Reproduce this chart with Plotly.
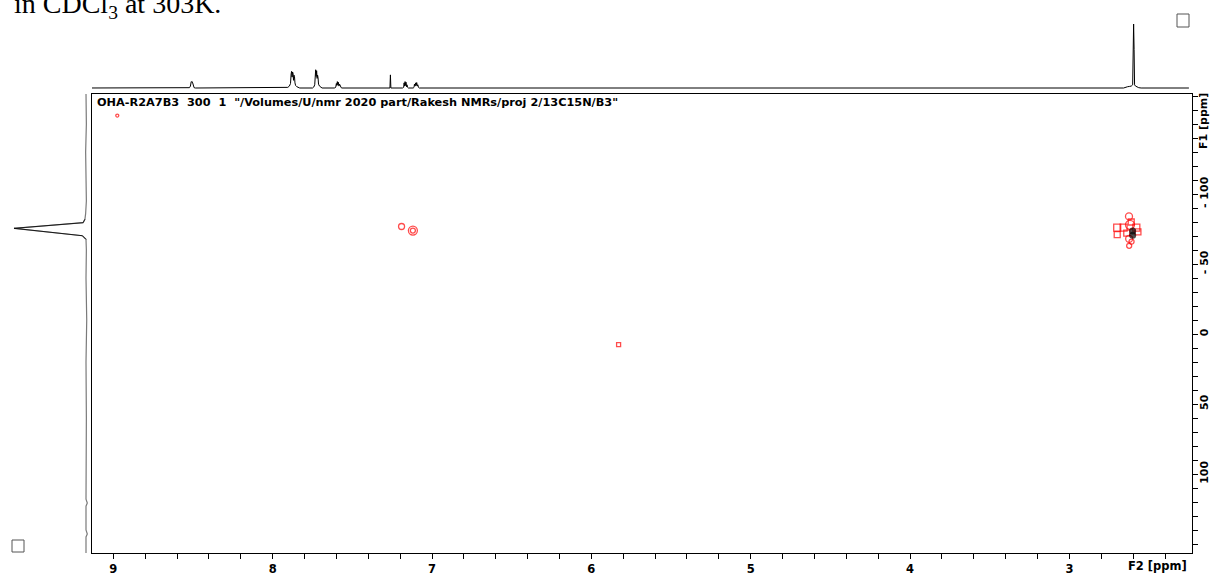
import plotly.graph_objects as go

W, H = 1214, 576

# ---------------- data ----------------
# F2 axis labels (1H, ppm)
f2_labels = [9, 8, 7, 6, 5, 4, 3]
# F1 axis labels (15N, ppm)
f1_label_vals = [-100, -50, 0, 50, 100]
f1_label_text = ["- 100", "- 50", "0", "50", "100"]

# Top 1H projection: (ppm, intensity)
h_ppm = [9.14, 8.53, 8.522, 8.516, 8.514, 8.511, 8.508, 8.505, 8.502, 8.499, 8.493, 8.485,
         7.915, 7.905, 7.895, 7.888, 7.884, 7.881, 7.878, 7.875, 7.872, 7.869, 7.866, 7.863,
         7.860, 7.856, 7.848, 7.838, 7.83,
         7.75, 7.742, 7.736, 7.733, 7.730, 7.727, 7.724, 7.721, 7.718, 7.715, 7.712, 7.706,
         7.698, 7.69,
         7.61, 7.604, 7.600, 7.597, 7.594, 7.591, 7.588, 7.584, 7.580, 7.576, 7.570, 7.565,
         7.264, 7.261, 7.258,
         7.185, 7.178, 7.175, 7.172, 7.169, 7.166, 7.163, 7.160, 7.157, 7.153, 7.148,
         7.118, 7.113, 7.110, 7.106, 7.103, 7.099, 7.096, 7.092, 7.089, 7.085, 7.08,
         2.66, 2.645, 2.635, 2.622, 2.612, 2.603, 2.600, 2.597, 2.594, 2.591, 2.585, 2.578,
         2.565, 2.55, 2.25]
h_int = [0, 0, 0.5, 3, 9, 10, 9.5, 10, 8, 3, 0.5, 0,
         0, 1, 3, 7, 22, 26, 17, 25, 23, 12, 20, 18,
         8, 4, 2, 0.5, 0,
         0, 1.5, 5, 22, 28.5, 18, 27, 15, 20, 16, 6, 3,
         1, 0,
         0, 1.5, 7, 4, 10, 5, 9, 3, 6, 2, 0.5, 0,
         0, 20.5, 0,
         0, 1, 8, 3, 10, 4, 9, 2, 5, 1, 0,
         0, 1, 6, 3, 8, 4, 8.5, 3, 5, 1, 0,
         0, 0.5, 2, 2.5, 3, 5, 60, 100, 60, 5, 3, 2,
         0.5, 0, 0]

# Left 15N projection: (ppm, intensity)
n_ppm = [-172, -150, -130, -110, -95, -86, -82, -79.5, -75.5, -70.2, -67.6, -60, -40,
         -10, 20, 60, 95, 118, 120.7, 123, 140, 142.9, 145, 157]
n_int = [0, -0.5, 0.5, 0, -0.5, 0.5, 1.5, 4, 100, 5, 0, -0.5, 0,
         -1, 0, -0.5, 0, 0, -1.8, 0, 0, -1.8, 0, 0]

# Cross peaks, positive contours (red)
red_f2 = [8.975, 7.191, 7.120, 7.120, 5.829,
          2.626, 2.700, 2.660, 2.580, 2.620, 2.570, 2.700, 2.625, 2.625, 2.612,
          2.640, 2.610]
red_f1 = [-156, -76.8, -73.9, -73.9, 7.6,
          -84, -76, -76, -76, -78, -73, -71, -68, -63, -80,
          -72, -66]
red_size = [3, 6, 9, 5, 4,
            7, 7, 7, 7, 9, 6, 6, 7, 5, 6,
            6, 5]
red_sym = ["circle-open", "circle-open", "circle-open", "circle-open", "square-open",
           "circle-open", "square-open", "square-open", "square-open", "circle-open",
           "square-open", "square-open", "circle-open", "circle-open", "square-open",
           "square-open", "circle-open"]

# Cross peak, other-phase contour (black)
blk_f2 = [2.603, 2.603]
blk_f1 = [-73.5, -70.5]
blk_size = [7, 7]

title_text = "in CDCl<sub>3</sub> at 303K."
info_text = 'OHA-R2A7B3\u00a0\u00a0300\u00a0\u00a01\u00a0\u00a0"/Volumes/U/nmr 2020 part/Rakesh NMRs/proj 2/13C15N/B3"'

# ---------------- figure ----------------
fig = go.Figure()

fig.add_trace(go.Scatter(x=h_ppm, y=h_int, mode="lines", xaxis="x", yaxis="y2",
                         line=dict(color="black", width=1), hoverinfo="skip"))
fig.add_trace(go.Scatter(x=n_int, y=n_ppm, mode="lines", xaxis="x3", yaxis="y",
                         line=dict(color="#7a7a7a", width=1.2), hoverinfo="skip"))
fig.add_trace(go.Scatter(x=n_int[6:11], y=n_ppm[6:11], mode="lines", xaxis="x3", yaxis="y",
                         line=dict(color="black", width=0.8), hoverinfo="skip"))
fig.add_trace(go.Scatter(x=red_f2, y=red_f1, mode="markers", xaxis="x", yaxis="y",
                         marker=dict(symbol=red_sym, size=red_size, color="#ff0000",
                                     line=dict(color="#ff0000", width=1.3))))
fig.add_trace(go.Scatter(x=blk_f2, y=blk_f1, mode="markers", xaxis="x", yaxis="y",
                         marker=dict(symbol="circle", size=blk_size, color="black",
                                     line=dict(width=0))))

px0, px1 = 92, 1192
py_top, py_bot = 94, 553
ppm_per_px = 1 / 159.35
x_left = 9 + (113.3 - px0) * ppm_per_px
x_right = 9 - (px1 - 113.3) * ppm_per_px
y_top = -(334 - py_top) / 1.4
y_bot = (py_bot - 334) / 1.4

tick_font = dict(family="DejaVu Sans", size=11.5, color="black", weight="bold")

x_tickvals = [round(9.0 - 0.2 * i, 1) for i in range(34)]
x_ticktext = [str(int(round(v))) if abs(v - round(v)) < 1e-6 and int(round(v)) in f2_labels else ""
              for v in x_tickvals]
y_tickvals = list(range(-170, 151, 10))
y_ticktext = [f1_label_text[f1_label_vals.index(v)] if v in f1_label_vals else "" for v in y_tickvals]

fig.update_layout(
    width=W, height=H,
    margin=dict(l=0, r=0, t=0, b=0),
    paper_bgcolor="white", plot_bgcolor="white",
    showlegend=False,
    xaxis=dict(domain=[px0 / W, px1 / W], range=[x_left, x_right], anchor="y",
               tickmode="array", tickvals=x_tickvals, ticktext=x_ticktext,
               ticks="outside", ticklen=5, tickcolor="black", tickwidth=1,
               showline=True, linecolor="black", linewidth=1, mirror=True,
               showgrid=False, zeroline=False, tickfont=tick_font, automargin=False),
    yaxis=dict(domain=[(H - py_bot) / H, (H - py_top) / H], range=[y_bot, y_top], anchor="x",
               side="right", tickmode="array", tickvals=y_tickvals, ticktext=y_ticktext,
               tickangle=-90, ticks="outside", ticklen=5, tickcolor="black", tickwidth=1,
               ticklabelstandoff=-3,
               showline=True, linecolor="black", linewidth=1, mirror=True,
               showgrid=False, zeroline=False,
               tickfont=dict(family="DejaVu Sans", size=11, color="black", weight="bold"),
               automargin=False),
    yaxis2=dict(domain=[(H - 92) / H, (H - 20) / H], range=[-6.25, 106.25], anchor="x",
                visible=False, showgrid=False, zeroline=False),
    xaxis3=dict(domain=[0, 90 / W], range=[86 / 0.72, -4 / 0.72], anchor="y",
                visible=False, showgrid=False, zeroline=False),
)

fig.add_annotation(text=title_text, xref="paper", yref="paper", x=12 / W, y=1 - 6 / H,
                   xanchor="left", yanchor="middle", showarrow=False,
                   font=dict(family="Liberation Serif", size=28, color="black"))
fig.add_annotation(text=info_text, xref="paper", yref="paper", x=95 / W, y=1 - 103 / H,
                   xanchor="left", yanchor="middle", showarrow=False,
                   font=dict(family="DejaVu Sans", size=11.3, color="black", weight="bold"))
fig.add_annotation(text="F2 [ppm]", xref="paper", yref="paper", x=1189 / W, y=1 - 566 / H,
                   xanchor="right", yanchor="middle", showarrow=False, font=tick_font)
fig.add_annotation(text="F1 [ppm]", xref="paper", yref="paper", x=1204 / W, y=1 - 121 / H,
                   xanchor="center", yanchor="middle", textangle=-90, showarrow=False,
                   font=dict(family="DejaVu Sans", size=11, color="black", weight="bold"))

for (a, b, c, d) in [(1177, 14, 1189, 27), (12, 540, 24, 552)]:
    fig.add_shape(type="rect", xref="paper", yref="paper",
                  x0=a / W, x1=c / W, y0=1 - d / H, y1=1 - b / H,
                  line=dict(color="#555555", width=1), fillcolor="rgba(0,0,0,0)")

fig.write_html("out.html")
